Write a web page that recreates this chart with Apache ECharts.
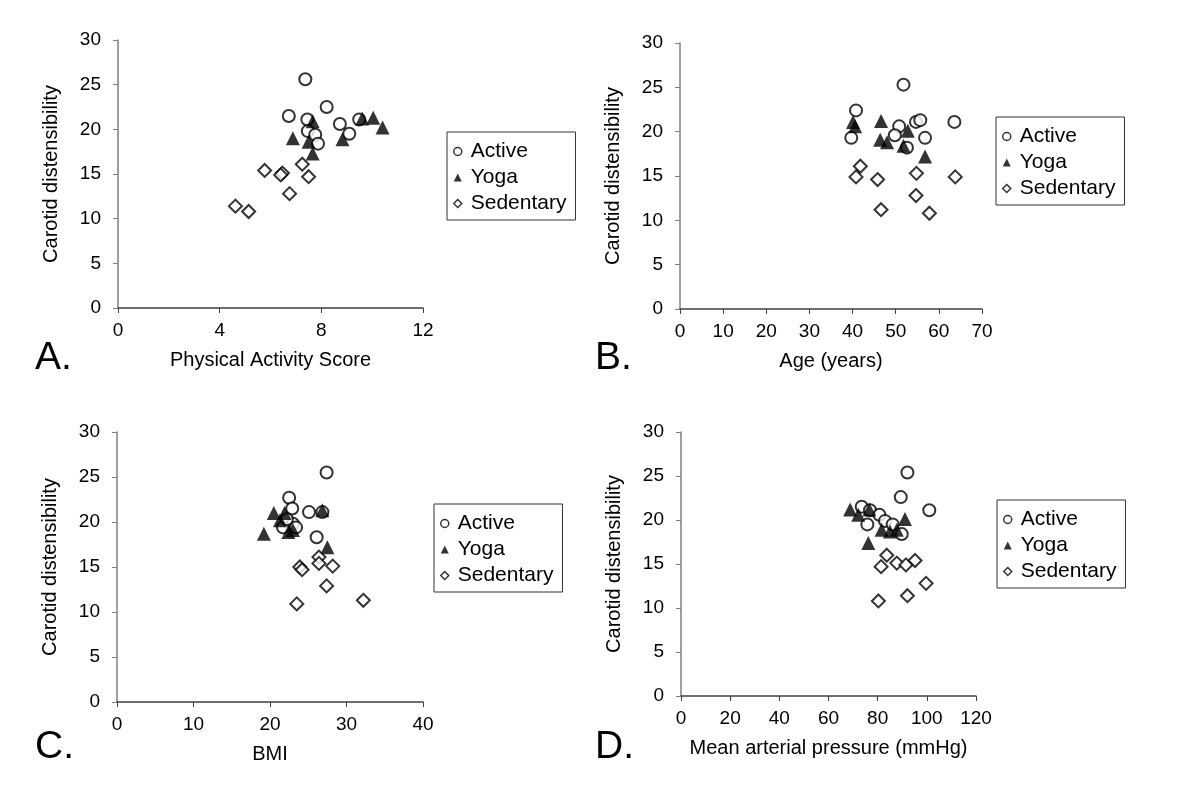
<!DOCTYPE html>
<html>
<head>
<meta charset="utf-8">
<script src="https://cdn.jsdelivr.net/npm/echarts@6/dist/echarts.min.js"></script>
<style>html,body{margin:0;padding:0;background:#fff}#c{width:1200px;height:794px}</style>
</head>
<body>
<div id="c"></div>
<script>
// ---- Data ----
const groupNames = ['Active', 'Yoga', 'Sedentary'];
const yAxisTitle = 'Carotid distensibility';

// Panel A: Physical Activity Score
const activeA = [[7.37,25.6],[8.21,22.5],[6.72,21.5],[7.45,21.1],[8.73,20.6],[7.47,19.8],[7.76,19.4],[9.1,19.5],[7.87,18.4],[9.49,21.1]];
const yogaA = [[6.88,19.0],[7.66,20.9],[7.5,18.6],[7.66,17.3],[8.83,18.9],[9.61,21.2],[10.04,21.3],[10.41,20.2]];
const sedentaryA = [[5.77,15.4],[6.47,15.1],[6.4,14.9],[7.25,16.1],[7.5,14.7],[6.75,12.8],[4.62,11.4],[5.14,10.8]];

// Panel B: Age (years)
const activeB = [[51.8,25.3],[40.8,22.4],[39.7,19.3],[50.8,20.6],[49.8,19.6],[54.7,21.1],[55.7,21.3],[56.8,19.3],[52.6,18.2],[63.6,21.1]];
const yogaB = [[40.1,21.1],[40.6,20.6],[46.6,21.2],[46.4,19.1],[48.0,18.8],[52.8,20.1],[51.8,18.4],[56.8,17.2]];
const sedentaryB = [[41.8,16.1],[40.8,14.9],[45.8,14.6],[54.8,15.3],[63.8,14.9],[54.7,12.8],[46.6,11.2],[57.8,10.8]];

// Panel C: BMI
const activeC = [[27.4,25.5],[22.5,22.7],[22.9,21.5],[25.1,21.1],[26.85,21.1],[23.0,19.8],[21.7,19.4],[23.4,19.4],[26.1,18.3],[22.2,20.3]];
const yogaC = [[20.5,21.0],[19.2,18.7],[21.9,21.0],[21.3,20.2],[22.4,18.9],[23.0,19.1],[26.85,21.3],[27.5,17.2]];
const sedentaryC = [[26.4,16.1],[26.4,15.4],[28.2,15.1],[23.9,15.0],[24.2,14.7],[27.4,12.9],[23.5,10.9],[32.2,11.3]];

// Panel D: Mean arterial pressure (mmHg)
const activeD = [[92.1,25.4],[89.4,22.6],[101.0,21.1],[73.5,21.5],[76.9,21.1],[80.7,20.6],[83.0,19.9],[86.1,19.5],[75.8,19.5],[89.8,18.4]];
const yogaD = [[68.8,21.2],[72.1,20.6],[76.6,21.2],[91.1,20.1],[81.6,18.9],[85.0,18.7],[87.8,18.9],[76.2,17.4]];
const sedentaryD = [[83.7,16.0],[81.4,14.7],[87.8,15.1],[91.5,14.9],[95.2,15.4],[99.7,12.8],[92.1,11.4],[80.3,10.8]];

const xTitles = ['Physical Activity Score', 'Age (years)', 'BMI', 'Mean arterial pressure (mmHg)'];
const xMax = [12, 70, 40, 120];
const xInterval = [4, 10, 10, 20];
const yMax = 30, yInterval = 5;
const panelLetters = ['A.', 'B.', 'C.', 'D.'];

// ---- Layout / style ----
const FONT = '"Liberation Sans", Arial, sans-serif';
const grids = [
  {left: 118, top: 40, width: 305, height: 268},
  {left: 680, top: 43, width: 302, height: 266},
  {left: 117, top: 432, width: 306, height: 270},
  {left: 681, top: 432, width: 295, height: 264}
];
const legendPos = [
  {left: 447, top: 132},
  {left: 996, top: 117},
  {left: 434, top: 504},
  {left: 997, top: 500}
];
const letterPos = [[35, 358], [595, 358], [35, 747], [595, 747]];

const panelData = [
  [activeA, yogaA, sedentaryA],
  [activeB, yogaB, sedentaryB],
  [activeC, yogaC, sedentaryC],
  [activeD, yogaD, sedentaryD]
];

const styles = [
  {symbol: 'circle', symbolSize: 12, itemStyle: {color: '#fff', borderColor: '#000', borderWidth: 2}},
  {symbol: 'triangle', symbolSize: 14, itemStyle: {color: '#000', borderColor: '#000', borderWidth: 0}},
  {symbol: 'diamond', symbolSize: 13, itemStyle: {color: '#fff', borderColor: '#000', borderWidth: 2}}
];
const legendIcon = [
  {icon: 'circle', itemStyle: {color: '#fff', borderColor: '#000', borderWidth: 1.5}},
  {icon: 'triangle', itemStyle: {color: '#000', borderColor: '#000', borderWidth: 0}},
  {icon: 'diamond', itemStyle: {color: '#fff', borderColor: '#000', borderWidth: 1.5}}
];

const xAxis = [], yAxis = [], series = [], legend = [], graphic = [];
for (let p = 0; p < 4; p++) {
  xAxis.push({
    type: 'value', gridIndex: p, min: 0, max: xMax[p], interval: xInterval[p],
    name: xTitles[p], nameLocation: 'middle', nameGap: 42,
    nameTextStyle: {fontFamily: FONT, fontSize: 20, color: '#000'},
    axisLine: {show: true, onZero: false, lineStyle: {color: '#404040', width: 1.5}},
    axisTick: {show: true, inside: false, length: 5, lineStyle: {color: '#404040'}},
    axisLabel: {fontFamily: FONT, fontSize: 19, color: '#000', margin: 13},
    splitLine: {show: false}
  });
  yAxis.push({
    type: 'value', gridIndex: p, min: 0, max: yMax, interval: yInterval,
    name: yAxisTitle, nameLocation: 'middle', nameGap: 57, nameRotate: 90,
    nameTextStyle: {fontFamily: FONT, fontSize: 20, color: '#000'},
    axisLine: {show: true, onZero: false, lineStyle: {color: '#808080', width: 1.5}},
    axisTick: {show: true, inside: false, length: 5, lineStyle: {color: '#808080'}},
    axisLabel: {fontFamily: FONT, fontSize: 19, color: '#000', margin: 17},
    splitLine: {show: false}
  });
  for (let g = 0; g < 3; g++) {
    series.push({
      type: 'scatter', name: groupNames[g], xAxisIndex: p, yAxisIndex: p,
      data: panelData[p][g], symbol: styles[g].symbol, symbolSize: styles[g].symbolSize,
      itemStyle: styles[g].itemStyle, z: 2 + g, silent: true
    });
  }
  legend.push({
    orient: 'vertical', left: legendPos[p].left, top: legendPos[p].top,
    borderColor: '#333', borderWidth: 1, backgroundColor: '#fff',
    padding: [9, 9, 6, 6], itemGap: 5, itemWidth: 8, itemHeight: 8,
    selectedMode: false,
    textStyle: {fontFamily: FONT, fontSize: 21, color: '#000', padding: [2, 0, 0, 4]},
    data: groupNames.map((n, i) => Object.assign({name: n}, legendIcon[i]))
  });
  graphic.push({
    type: 'text', left: letterPos[p][0], top: letterPos[p][1] - 19,
    style: {text: panelLetters[p], font: '39px ' + FONT, fill: '#000'}
  });
}

const chart = echarts.init(document.getElementById('c'), null, {renderer: 'canvas'});
chart.setOption({
  animation: false,
  backgroundColor: '#fff',
  grid: grids,
  xAxis: xAxis,
  yAxis: yAxis,
  legend: legend,
  series: series,
  graphic: graphic
});
</script>
</body>
</html>
